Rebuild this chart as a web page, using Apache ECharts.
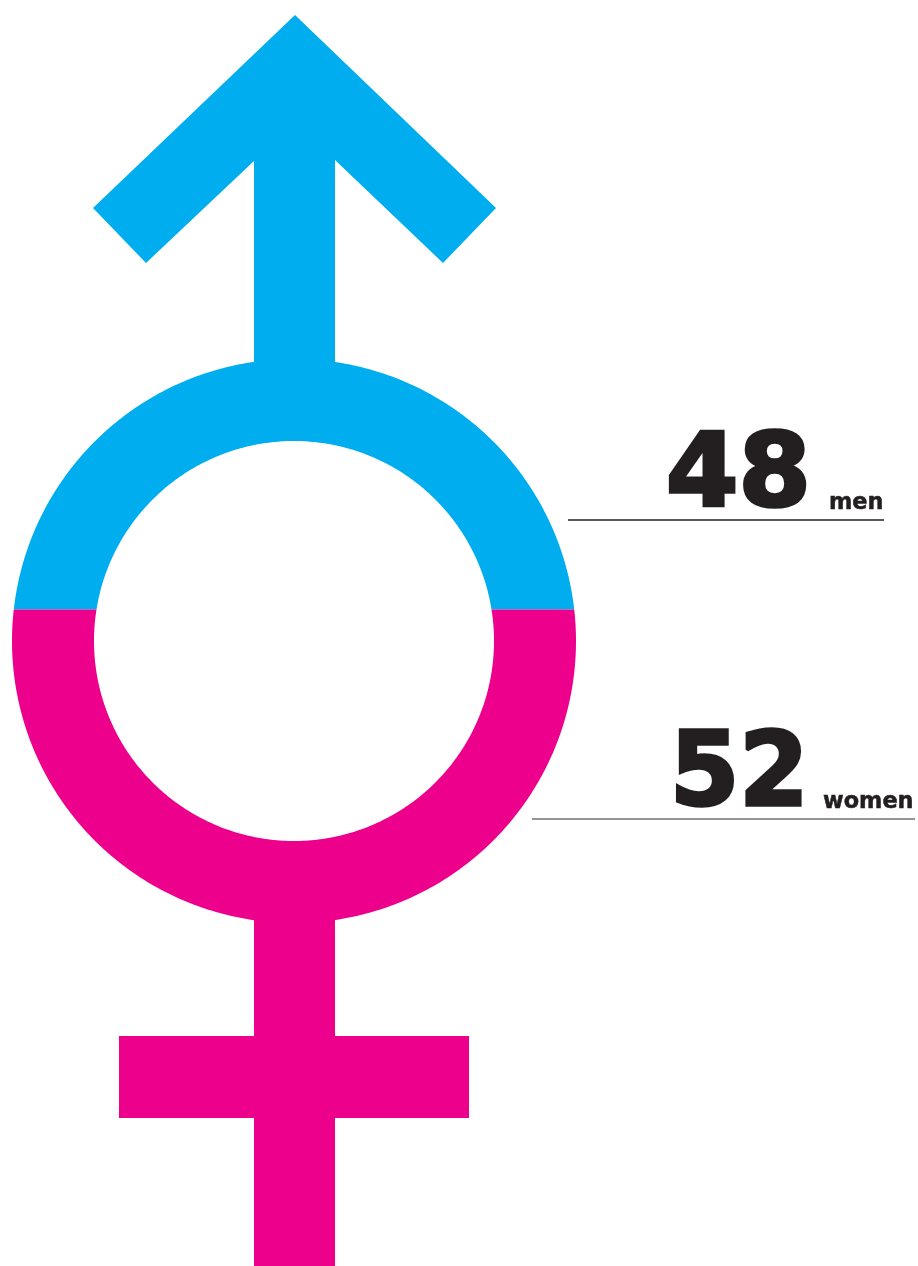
<!DOCTYPE html>
<html>
<head>
<meta charset="utf-8">
<style>
  html, body { margin: 0; padding: 0; background: #fff; }
  #chart { width: 918px; height: 1266px; }
</style>
<script src="https://cdn.jsdelivr.net/npm/echarts@6/dist/echarts.min.js"></script>
</head>
<body>
<div id="chart"></div>
<script>
// share of each gender, top part of the symbol first
const genders = ['men', 'women']
const shares = [48, 52]

const BLUE = '#00AEEF'
const PINK = '#EC008C'
const INK = '#231F20'

// ring of the symbol, in pixels
const CX = 294
const CY = 641
const R_OUT = 282
const R_IN = 200

// points along a circle between two y levels, going left to right over the top or bottom
function arc(r, y, side) {
  const start = Math.asin((CY - y) / r)
  const pts = []
  const steps = 240
  for (let i = 0; i <= steps; i++) {
    // side -1 = top part, 1 = bottom part
    const a = side < 0
      ? Math.PI - start + (2 * start - Math.PI) * i / steps
      : Math.PI - start + (Math.PI + 2 * start) * i / steps
    pts.push([CX + r * Math.cos(a), CY - r * Math.sin(a)])
  }
  return pts
}

function ringPart(y, side, color) {
  const outer = arc(R_OUT, y, side)
  const inner = arc(R_IN, y, side).reverse()
  return { type: 'polygon', shape: { points: outer.concat(inner) }, style: { fill: color } }
}

function label(i, y, numX, numScale, nameX, lineX0, lineX1, lineColor) {
  return [
    // no black weight with these digit shapes, so the stroke thickens the bold
    { type: 'text', x: numX, y: y + 10, scaleX: numScale, style: { text: String(shares[i]), x: 0, y: 0, fill: INK, stroke: INK, lineWidth: 3.5,
      textAlign: 'left', textVerticalAlign: 'bottom', fontFamily: 'DejaVu Sans', fontWeight: 'bold', fontSize: 101 } },
    { type: 'text', style: { text: genders[i], x: nameX, y: y - 6, fill: INK, stroke: INK, lineWidth: 0.5,
      textAlign: 'left', textVerticalAlign: 'bottom', fontFamily: 'DejaVu Sans', fontWeight: 'bold', fontSize: 22.4 } },
    { type: 'line', shape: { x1: lineX0, y1: y, x2: lineX1, y2: y }, style: { stroke: lineColor, lineWidth: 2 } }
  ]
}

function renderItem(params, api) {
  const split = api.coord([0, shares[0]])[1]
  if (params.dataIndex === 0) {
    return {
      type: 'group',
      children: [
        ringPart(split, -1, BLUE),
        { type: 'polygon', shape: { points: [[295, 15], [496, 208], [443, 263], [335, 160], [335, 400], [254, 400], [254, 161], [146, 263], [93, 208]] }, style: { fill: BLUE } }
      ].concat(label(0, 520, 666, 1.03, 829, 568, 884, '#58595B'))
    }
  }
  return {
    type: 'group',
    children: [
      ringPart(split, 1, PINK),
      { type: 'rect', shape: { x: 254, y: 900, width: 81, height: 366 }, style: { fill: PINK } },
      { type: 'rect', shape: { x: 119, y: 1036, width: 350, height: 82 }, style: { fill: PINK } }
    ].concat(label(1, 819, 670, 0.985, 823, 532, 915, '#939598'))
  }
}

const chart = echarts.init(document.getElementById('chart'))
chart.setOption({
  animation: false,
  backgroundColor: '#fff',
  grid: { left: 0, top: 15, width: 918, height: 1252 },
  xAxis: { type: 'value', min: 0, max: 918, show: false },
  yAxis: { type: 'value', min: 0, max: 101, inverse: true, show: false },
  series: [{
    type: 'custom',
    clip: false,
    silent: true,
    renderItem: renderItem,
    data: genders.map((g, i) => ({ name: g, value: [i, shares[i]] }))
  }]
})
</script>
</body>
</html>
